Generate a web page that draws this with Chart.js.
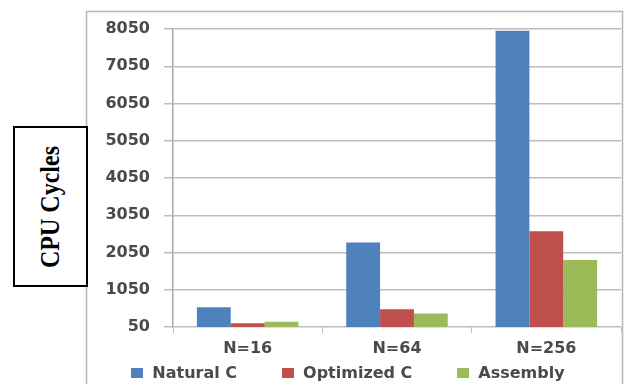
<!DOCTYPE html>
<html>
<head>
<meta charset="utf-8">
<script src="https://cdn.jsdelivr.net/npm/chart.js@4"></script>
<style>
  html, body { margin: 0; padding: 0; background: #fff; }
  #wrap { position: relative; width: 625px; height: 384px; overflow: hidden; }
  #chart { position: absolute; left: 0; top: 0; }
  #ytitle {
    position: absolute; left: 13px; top: 126px; width: 71px; height: 157px;
    border: 2px solid #000; background: #fff;
  }
  #ytitle span {
    position: absolute; left: 50%; top: 50%;
    transform: translate(-50%, -50%) rotate(-90deg) scaleY(1.12);
    white-space: nowrap;
    font-family: "Liberation Serif", "Times New Roman", serif;
    font-weight: bold; font-size: 24px; color: #000;
  }
  #legend {
    position: absolute; left: 80px; width: 536px; top: 364px;
    display: flex; justify-content: center; gap: 45px;
    font-family: "DejaVu Sans", sans-serif; font-weight: bold; font-size: 16px;
    color: #4a4a4a; line-height: 18px;
  }
  #legend .item { display: flex; align-items: center; }
  #legend .box { width: 12px; height: 10px; margin-right: 9px; }
</style>
</head>
<body>
<div id="wrap">
  <canvas id="chart" width="625" height="384"></canvas>
  <div id="ytitle"><span>CPU Cycles</span></div>
  <div id="legend"></div>
</div>
<script>
// Problem sizes on the x axis
const categories = ["N=16", "N=64", "N=256"];

// Measured CPU cycles per implementation
const seriesNames = ["Natural C", "Optimized C", "Assembly"];
const naturalC   = [580, 2320, 8000];
const optimizedC = [150, 525, 2620];
const assembly   = [190, 410, 1850];
const seriesColors = ["#4f81bd", "#c0504d", "#9bbb59"];

// Y axis runs 50..8050 in steps of 1000
const yMin = 50;
const yMax = 8050;
const yStep = 1000;

const seriesValues = [naturalC, optimizedC, assembly];

const textColor = "#4a4a4a";
const gridColor = "#bdbdbd";

// Light frame around the plot region
const framePlugin = {
  id: "frame",
  beforeDraw(chart) {
    const ctx = chart.ctx;
    ctx.save();
    ctx.strokeStyle = "#b8b8b8";
    ctx.lineWidth = 1.5;
    ctx.beginPath();
    ctx.moveTo(86.5, 400);
    ctx.lineTo(86.5, 11.5);
    ctx.lineTo(622.5, 11.5);
    ctx.lineTo(622.5, 400);
    ctx.stroke();
    ctx.restore();
  }
};

const chart = new Chart(document.getElementById("chart"), {
  type: "bar",
  data: {
    labels: categories,
    datasets: seriesNames.map((name, i) => ({
      label: name,
      data: seriesValues[i],
      backgroundColor: seriesColors[i],
      borderWidth: 0,
      barPercentage: 1.0,
      categoryPercentage: 0.68
    }))
  },
  options: {
    responsive: false,
    animation: false,
    layout: { padding: { left: 86, right: 4, top: 29, bottom: 24 } },
    plugins: {
      legend: { display: false },
      tooltip: { enabled: false }
    },
    scales: {
      x: {
        grid: {
          display: true,
          drawOnChartArea: false,
          drawTicks: true,
          tickLength: 6,
          color: gridColor,
          offset: true
        },
        border: { display: false },
        ticks: {
          color: textColor,
          padding: 6,
          font: { family: "DejaVu Sans", weight: "bold", size: 16 }
        },
        afterFit(scale) { scale.height = 33; }
      },
      y: {
        min: yMin,
        max: yMax,
        grid: {
          color: gridColor,
          lineWidth: 1.5,
          tickLength: 9
        },
        border: { display: true, color: "#a8a8a8", width: 1.5 },
        ticks: {
          stepSize: yStep,
          color: textColor,
          padding: 14,
          font: { family: "DejaVu Sans", weight: "bold", size: 16 },
          callback: (value) => String(value)
        },
        afterFit(scale) { scale.width = 87; }
      }
    }
  },
  plugins: [framePlugin]
});

// Legend built from the chart's own datasets
const legendEl = document.getElementById("legend");
chart.data.datasets.forEach(ds => {
  const item = document.createElement("div");
  item.className = "item";
  const box = document.createElement("span");
  box.className = "box";
  box.style.background = ds.backgroundColor;
  const txt = document.createElement("span");
  txt.textContent = ds.label;
  item.appendChild(box);
  item.appendChild(txt);
  legendEl.appendChild(item);
});
</script>
</body>
</html>
